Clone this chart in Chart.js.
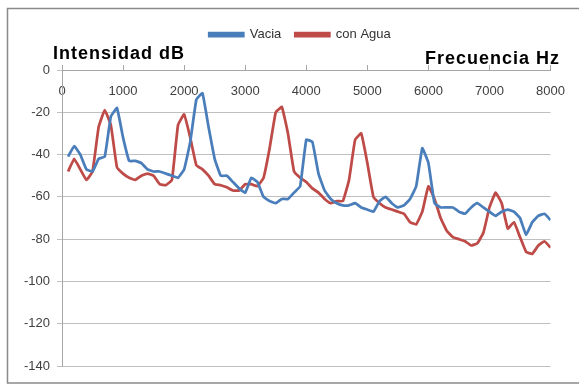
<!doctype html>
<html lang="es">
<head>
<meta charset="utf-8">
<title>Vacia / con Agua</title>
<style>
  * { margin: 0; padding: 0; }
  body { background: #fff; overflow: hidden; }
  .chart-container { position: absolute; left: 0; top: 0; width: 579px; height: 385px; }
</style>
</head>
<body>
<div class="chart-container">
  <canvas id="myChart" width="579" height="385"></canvas>
</div>
<script src="https://cdn.jsdelivr.net/npm/chart.js"></script>
<script>
  // frecuencias (Hz), cada 100 Hz
  const freqs = [];
  for (let f = 100; f <= 8000; f += 100) freqs.push(f);

  const vacia = [
    -41, -36, -40, -47, -48, -42, -41, -22, -18, -32,
    -43, -43, -44, -47, -48, -48, -49, -50, -51, -47,
    -34, -14, -11, -27, -42, -50, -50, -53, -56, -58,
    -51, -53, -60, -62, -63, -61, -61, -58, -55, -33,
    -34, -49, -57, -61, -63, -64, -64, -63, -65, -66,
    -67, -62, -60, -63, -65, -64, -61, -55, -37, -44,
    -63, -65, -65, -65, -67, -68, -65, -63, -65, -67,
    -69, -67, -66, -67, -70, -78, -72, -69, -68, -71
  ];

  const conAgua = [
    -48, -42, -47, -52, -48, -27, -19, -26, -46, -49,
    -51, -52, -50, -49, -50, -54, -54.5, -52, -26, -21,
    -32, -45, -47, -50, -54, -54.5, -55.5, -57, -57, -54,
    -54, -55, -51, -37, -20, -17.5, -30, -48, -51, -53,
    -56, -58, -61, -63, -62, -62, -52, -33, -30, -44,
    -60, -63, -65, -66, -67, -68, -72, -73, -67, -55,
    -61, -70, -76, -79, -80, -81, -83, -82, -77, -65,
    -58, -63, -75, -72, -79, -86, -87, -83, -81, -84
  ];

  const seriesNames = ['Vacia', 'con Agua'];
  const seriesColors = ['#4a7ebb', '#be4b48'];

  const toPoints = vals => vals.map((v, i) => ({ x: freqs[i], y: v }));

  const tickFont = { family: '"Liberation Sans", Arial, sans-serif', size: 13 };

  // marco, leyenda algo a la derecha y textos de los ejes
  const extras = {
    id: 'extras',
    afterLayout(chart) {
      const lg = chart.legend;
      if (lg) { lg.left += 18; lg.right += 18; }
    },
    beforeDraw(chart) {
      const ctx = chart.ctx;
      ctx.save();
      ctx.strokeStyle = '#8a8a8a';
      ctx.lineWidth = 1.5;
      ctx.beginPath();
      ctx.moveTo(579, 8.5);
      ctx.lineTo(7.5, 8.5);
      ctx.lineTo(7.5, 383);
      ctx.lineTo(579, 383);
      ctx.stroke();
      ctx.restore();
    },
    afterDraw(chart) {
      const ctx = chart.ctx;
      const top = chart.chartArea.top;
      ctx.save();
      ctx.fillStyle = '#000';
      ctx.font = 'bold 18px "Liberation Sans", Arial, sans-serif';
      ctx.letterSpacing = '1px';
      ctx.textBaseline = 'alphabetic';
      ctx.textAlign = 'left';
      ctx.fillText('Intensidad dB', 53, top - 11);
      ctx.textAlign = 'right';
      ctx.fillText('Frecuencia Hz', 560, top - 6);
      ctx.restore();
    }
  };

  const config = {
    type: 'line',
    data: {
      datasets: [
        {
          label: seriesNames[0],
          data: toPoints(vacia),
          borderColor: seriesColors[0],
          backgroundColor: seriesColors[0],
          borderWidth: 2.75,
          pointRadius: 0,
          tension: 0.1
        },
        {
          label: seriesNames[1],
          data: toPoints(conAgua),
          borderColor: seriesColors[1],
          backgroundColor: seriesColors[1],
          borderWidth: 2.75,
          pointRadius: 0,
          tension: 0.1
        }
      ]
    },
    options: {
      responsive: false,
      animation: false,
      layout: { padding: { top: 14, left: 10, right: 25, bottom: 19 } },
      plugins: {
        tooltip: { enabled: false },
        legend: {
          display: true,
          position: 'top',
          labels: {
            boxWidth: 34,
            boxHeight: 3,
            padding: 14,
            color: '#333',
            font: { family: '"Liberation Sans", Arial, sans-serif', size: 13 }
          }
        }
      },
      scales: {
        // eje de frecuencias: etiquetas bajo la línea del 0 dB
        x: {
          type: 'linear',
          position: { y: 0 },
          min: 0,
          max: 8000,
          ticks: {
            stepSize: 1000,
            padding: 14,
            color: '#404040',
            font: tickFont,
            maxRotation: 0,
            callback: v => String(v)
          },
          grid: { display: false, drawTicks: false },
          border: { display: false }
        },
        // solo marcas de graduación hacia arriba
        x2: {
          type: 'linear',
          position: 'top',
          min: 0,
          max: 8000,
          ticks: { stepSize: 1000, display: false },
          grid: {
            drawOnChartArea: false,
            drawTicks: true,
            tickLength: 5,
            color: '#a6a6a6'
          },
          border: { display: true, color: '#a6a6a6', width: 1 },
          afterFit: s => { s.height = 19; }
        },
        y: {
          min: -140,
          max: 0,
          ticks: {
            stepSize: 20,
            padding: 7,
            color: '#404040',
            font: tickFont
          },
          grid: {
            color: '#bfbfbf',
            tickLength: 5,
            lineWidth: 1
          },
          border: { display: true, color: '#a6a6a6', width: 1 },
          afterFit: s => { s.width = 52; }
        }
      }
    },
    plugins: [extras]
  };

  const myChart = new Chart(document.getElementById('myChart'), config);
</script>
</body>
</html>
